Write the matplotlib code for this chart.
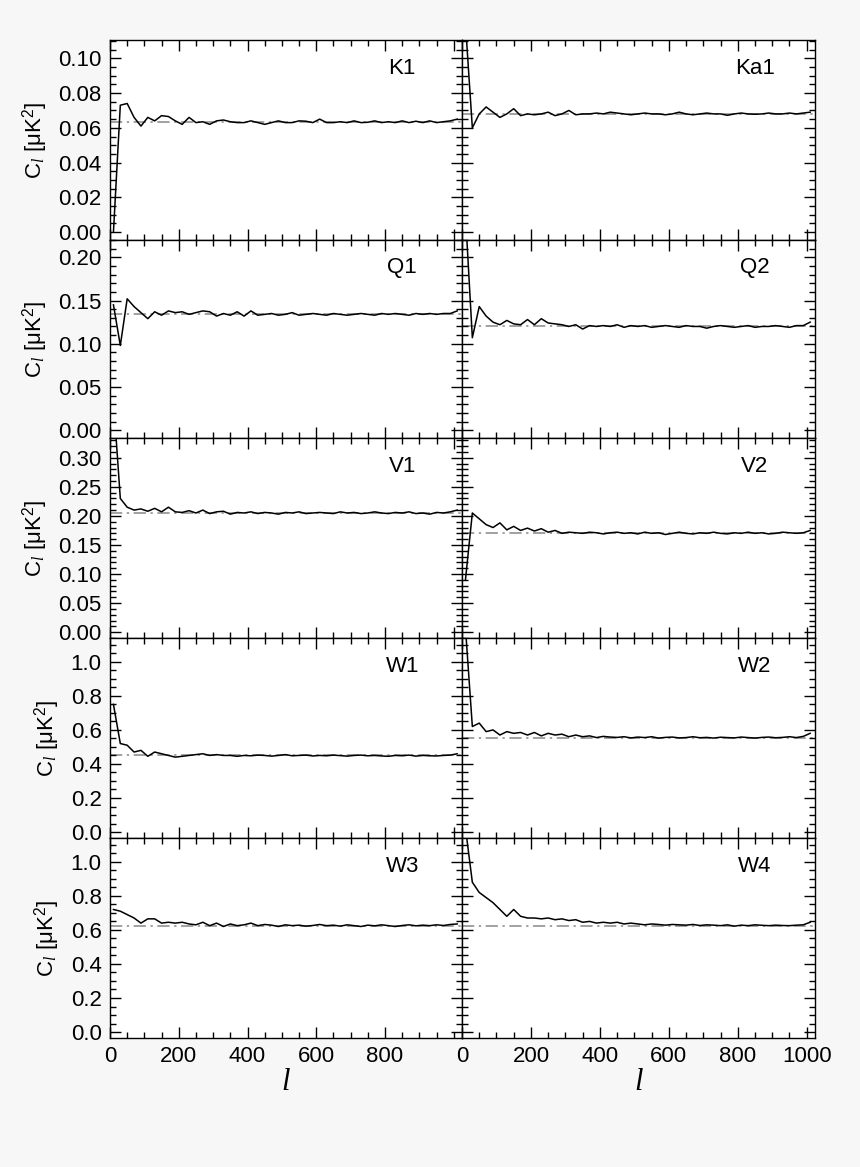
import numpy as np
import matplotlib
matplotlib.use("Agg")
import matplotlib.pyplot as plt
from matplotlib.ticker import MultipleLocator

plt.rcParams['font.family'] = ['Liberation Sans', 'DejaVu Sans']
plt.rcParams['mathtext.fontset'] = 'custom'
plt.rcParams['mathtext.rm'] = 'Liberation Sans'
plt.rcParams['mathtext.it'] = 'Liberation Serif:italic'

ell = list(range(10, 1030, 20))  # bin centres

names = ["K1", "Ka1", "Q1", "Q2", "V1", "V2", "W1", "W2", "W3", "W4"]
levels = [0.0635, 0.068, 0.134, 0.120, 0.205, 0.170, 0.450, 0.555, 0.625, 0.625]

K1 = [0.000,0.073,0.074,0.066,0.061,0.066,0.064,0.067,0.0665,0.064,
      0.062,0.066,0.063,0.0635,0.062,0.064,0.0645,0.0635,0.063,0.063,
      0.064,0.063,0.062,0.063,0.064,0.063,0.063,0.064,0.0638,0.063,
      0.065,0.063,0.063,0.0635,0.063,0.064,0.063,0.0632,0.064,0.063,
      0.0635,0.063,0.064,0.063,0.0638,0.063,0.064,0.063,0.0635,0.064,0.065]
Ka1 = [0.120,0.060,0.068,0.072,0.069,0.066,0.068,0.071,0.067,0.068,
       0.0675,0.068,0.069,0.067,0.068,0.070,0.0675,0.068,0.068,0.0685,
       0.068,0.069,0.0685,0.068,0.0675,0.068,0.0685,0.068,0.068,0.0675,
       0.068,0.069,0.068,0.0675,0.068,0.0685,0.068,0.068,0.0672,0.068,
       0.0685,0.068,0.0678,0.068,0.0685,0.068,0.068,0.0685,0.068,0.0685,0.069]
Q1 = [0.145,0.098,0.152,0.143,0.136,0.129,0.137,0.133,0.138,0.136,
      0.137,0.134,0.136,0.138,0.137,0.132,0.135,0.133,0.137,0.132,
      0.138,0.133,0.134,0.135,0.133,0.134,0.136,0.133,0.134,0.135,
      0.134,0.133,0.135,0.134,0.133,0.134,0.135,0.134,0.133,0.135,
      0.134,0.135,0.134,0.133,0.135,0.134,0.135,0.134,0.135,0.135,0.138]
Q2 = [0.250,0.107,0.143,0.132,0.125,0.122,0.127,0.123,0.122,0.128,
      0.122,0.129,0.124,0.123,0.122,0.120,0.122,0.117,0.121,0.120,
      0.121,0.120,0.122,0.119,0.121,0.120,0.121,0.119,0.120,0.121,
      0.120,0.119,0.121,0.120,0.120,0.118,0.120,0.121,0.120,0.119,
      0.120,0.121,0.119,0.120,0.120,0.121,0.120,0.119,0.121,0.121,0.125]
V1 = [0.400,0.230,0.215,0.210,0.212,0.208,0.213,0.207,0.215,0.207,
      0.206,0.209,0.205,0.210,0.204,0.207,0.208,0.203,0.206,0.205,
      0.207,0.204,0.206,0.205,0.203,0.206,0.205,0.207,0.204,0.205,
      0.206,0.205,0.204,0.207,0.205,0.206,0.204,0.205,0.207,0.205,
      0.204,0.206,0.205,0.207,0.204,0.205,0.203,0.206,0.205,0.207,0.210]
V2 = [0.090,0.205,0.195,0.185,0.180,0.188,0.176,0.182,0.175,0.179,
      0.174,0.178,0.172,0.175,0.170,0.172,0.171,0.170,0.172,0.171,
      0.169,0.171,0.172,0.170,0.171,0.169,0.172,0.170,0.171,0.168,
      0.170,0.172,0.170,0.169,0.171,0.170,0.172,0.170,0.169,0.171,
      0.170,0.172,0.170,0.171,0.169,0.170,0.172,0.171,0.170,0.171,0.175]
W1 = [0.750,0.520,0.510,0.470,0.480,0.445,0.470,0.460,0.450,0.440,
      0.445,0.450,0.455,0.460,0.450,0.455,0.450,0.450,0.445,0.450,
      0.448,0.452,0.450,0.446,0.450,0.455,0.448,0.450,0.452,0.447,
      0.450,0.448,0.452,0.449,0.446,0.450,0.452,0.448,0.450,0.447,
      0.445,0.450,0.448,0.452,0.446,0.450,0.448,0.447,0.450,0.452,0.460]
W2 = [1.200,0.620,0.640,0.590,0.600,0.570,0.590,0.580,0.585,0.570,
      0.585,0.565,0.580,0.570,0.575,0.560,0.570,0.560,0.565,0.555,
      0.562,0.558,0.556,0.560,0.553,0.558,0.555,0.560,0.552,0.556,
      0.558,0.553,0.555,0.560,0.554,0.556,0.552,0.557,0.555,0.553,
      0.558,0.555,0.552,0.556,0.558,0.554,0.556,0.560,0.555,0.562,0.580]
W3 = [0.720,0.710,0.690,0.670,0.640,0.665,0.665,0.640,0.645,0.640,
      0.645,0.635,0.630,0.645,0.625,0.640,0.620,0.635,0.625,0.630,
      0.640,0.625,0.632,0.628,0.620,0.630,0.625,0.628,0.622,0.626,
      0.632,0.625,0.628,0.622,0.630,0.625,0.620,0.628,0.624,0.630,
      0.625,0.620,0.626,0.630,0.624,0.628,0.625,0.630,0.626,0.632,0.635]
W4 = [1.200,0.880,0.820,0.790,0.760,0.720,0.680,0.720,0.680,0.670,
      0.670,0.665,0.670,0.660,0.665,0.655,0.660,0.645,0.650,0.640,
      0.645,0.640,0.645,0.635,0.640,0.635,0.630,0.635,0.632,0.628,
      0.632,0.630,0.628,0.632,0.626,0.630,0.628,0.625,0.630,0.622,
      0.628,0.625,0.630,0.627,0.625,0.628,0.626,0.625,0.628,0.630,0.645]
series = [K1, Ka1, Q1, Q2, V1, V2, W1, W2, W3, W4]

ylims = [(-0.0045, 0.1105), (-0.009, 0.22), (-0.01, 0.334), (-0.035, 1.14), (-0.035, 1.14)]
majors = [0.02, 0.05, 0.05, 0.2, 0.2]
minors = [0.005, 0.01, 0.01, 0.05, 0.05]
fmts = ["%.2f", "%.2f", "%.2f", "%.1f", "%.1f"]

W, H = 860, 1167
fig = plt.figure(figsize=(W/100, H/100), dpi=100, facecolor='#f7f7f7')
x0, xm, x1 = 110, 462, 815
tops = [40, 240, 438, 638, 838, 1038]
for r in range(5):
    for c in range(2):
        left = x0 if c == 0 else xm
        right = xm if c == 0 else x1
        ax = fig.add_axes([left/W, 1-tops[r+1]/H, (right-left)/W, (tops[r+1]-tops[r])/H])
        ax.set_facecolor('white')
        i = 2*r + c
        ax.plot(ell, series[i], color='black', lw=1.1)
        ax.axhline(levels[i], color='#888888', lw=1.1, ls=(0, (8, 3, 1.5, 3)), zorder=0)
        ax.set_xlim(0, 1024)
        ax.set_ylim(*ylims[r])
        ax.xaxis.set_major_locator(MultipleLocator(200))
        ax.xaxis.set_minor_locator(MultipleLocator(50))
        ax.yaxis.set_major_locator(MultipleLocator(majors[r]))
        ax.yaxis.set_minor_locator(MultipleLocator(minors[r]))
        ax.tick_params(which='both', direction='in', top=True, right=True, labelsize=16, pad=6)
        ax.tick_params(which='major', length=8, width=1)
        ax.tick_params(which='minor', length=4, width=1)
        for s in ax.spines.values():
            s.set_linewidth(1)
        ax.text(0.83, 0.86, names[i], transform=ax.transAxes, fontsize=16, ha='center', va='center')
        if c == 0:
            ax.yaxis.set_major_formatter(matplotlib.ticker.FormatStrFormatter(fmts[r]))
            ax.set_ylabel(r'C$_{\mathit{l}}$ [$\mathrm{\mu}$K$^2$]', fontsize=16, labelpad=6)
        else:
            ax.set_yticklabels([])
        if r < 4:
            ax.set_xticklabels([])
        else:
            ax.set_xlabel(r'$l$', fontsize=22, labelpad=0)
            if c == 0:
                ax.set_xticks([0, 200, 400, 600, 800])
fig.savefig('out.png', dpi=100, facecolor=fig.get_facecolor())
